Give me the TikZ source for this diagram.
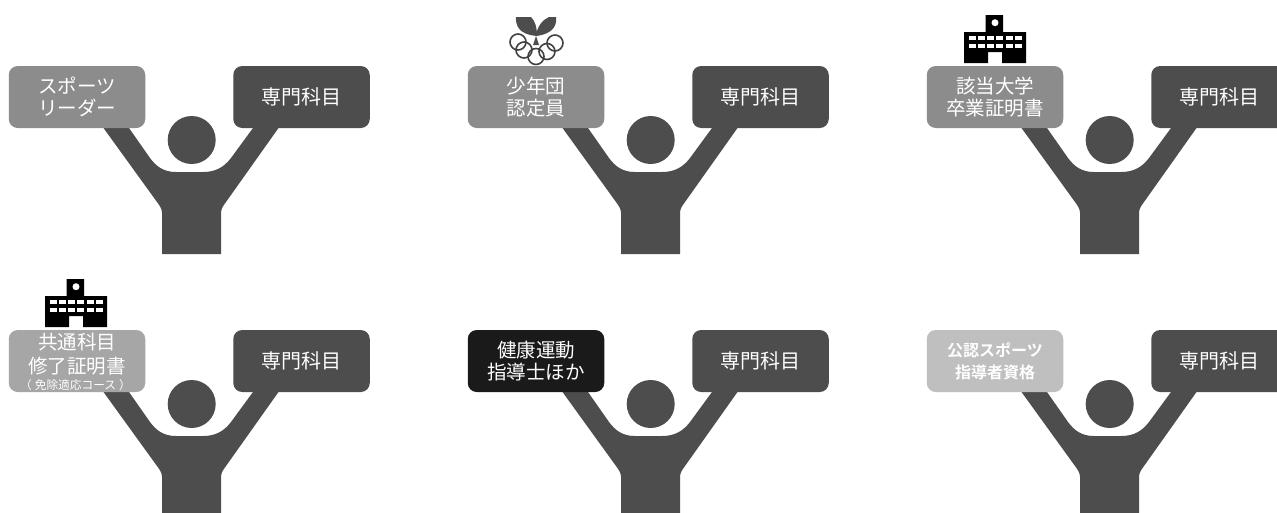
\documentclass[tikz,border=0pt]{standalone}
\usepackage{fontspec}
\setmainfont{Noto Sans CJK JP}
\newfontfamily\jpbold[BoldFont={Noto Sans CJK JP Bold}]{Noto Sans CJK JP}
\definecolor{figure}{HTML}{4D4D4D}
\definecolor{boxA}{HTML}{8C8C8C}
\definecolor{boxB}{HTML}{A6A6A6}
\definecolor{boxC}{HTML}{1A1A1A}
\definecolor{boxD}{HTML}{BFBFBF}
\tikzset{
  x=1pt,y=-1pt,
  card/.style={rounded corners=9pt,minimum width=136.5pt,minimum height=62pt,inner sep=0pt,align=center,text=white,font=\fontsize{19.5}{22.5}\selectfont,anchor=center},
  spec/.style={card,fill=figure,font=\fontsize{20}{22}\selectfont},
  icon/.style={fill=black,draw=none},
  ring/.style={draw=figure!85!black,line width=1.6pt,fill=none},
  leaf/.style={fill=figure,draw=none}
}
% #1 name, #2 dx, #3 dy
\newcommand{\personfig}[3]{%
  \begin{scope}[shift={(#2,#3)}]
    \fill[figure] (103.5,128) -- (157,202) .. controls (160,206) and (162,209) .. (162,213) -- (162,254) -- (221,254) -- (221,213) .. controls (221,209) and (223,206) .. (226,202) -- (278.5,128)
      -- (253,128) -- (231,158) .. controls (224,167) and (216,172) .. (203,172)
      -- (176,172) .. controls (163,172) and (156,166) .. (150,158) -- (129,128) -- cycle;
    \node[circle,fill=figure,minimum size=48pt,inner sep=0pt] (#1head) at (191.7,140) {};
    \node[spec] (#1spec) at (301.5,97) {専門科目};
  \end{scope}}
\newcommand{\schoolicon}[3]{%
  \begin{scope}[shift={(#2,#3)}]
    \fill[icon] (985.7,15) -- (1003,15) -- (1003,32) -- (1026,32) -- (1026,63) -- (1002,63) -- (1002,52) -- (988,52) -- (988,63) -- (964,63) -- (964,32) -- (985.7,32) -- cycle;
    \fill[white] (995,22.7) circle (3.5);
    \foreach \wy in {35.5,43.5}{
      \foreach \wx in {968.5,977.8,987.1,996.4,1005.7,1015}{
        \fill[white] (\wx,\wy) rectangle ++(7,4.5);
      }}
  \end{scope}}
\begin{document}
\begin{tikzpicture}
\useasboundingbox (0,0) rectangle (1277,512);
\clip (0,0) rectangle (1277,512);
\fill[white] (0,0) rectangle (1277,512);
\personfig{a}{0}{0}
\personfig{b}{459}{0}
\personfig{c}{918}{0}
\personfig{d}{0}{264}
\personfig{e}{459}{264}
\personfig{f}{918}{264}
% left cards
\node[card,fill=boxA] (aleft) at (77,97) {スポーツ\\リーダー};
\node[card,fill=boxA] (bleft) at (536,97) {少年団\\認定員};
\node[card,fill=boxA] (cleft) at (995,97) {該当大学\\卒業証明書};
\node[card,fill=boxB] (dleft) at (77,361) {};
\node[text=white,inner sep=0pt,align=center,font=\fontsize{19.5}{24}\selectfont] (dtext) at (77,354.5) {共通科目\\修了証明書};
\node[text=white,inner sep=0pt,font=\fontsize{11.7}{12}\selectfont] (dnote) at (75.5,385.5) {（\kern3pt 免除適応コース\kern3pt ）};
\node[card,fill=boxC] (eleft) at (536,361) {健康運動\\指導士ほか};
\node[card,fill=boxD,font=\jpbold\bfseries\fontsize{16}{22}\selectfont] (fleft) at (995,361) {公認スポーツ\\指導者資格};
% icons
\begin{scope}
  \fill[leaf] (516,17) -- (531,17) .. controls (535,21) and (537,27) .. (537,36) .. controls (527,35) and (515,32) .. (516,17) -- cycle;
  \fill[leaf] (556,17) -- (549,17) .. controls (542,20) and (537,27) .. (536,36) .. controls (546,35) and (558,30) .. (556,17) -- cycle;
  \fill[leaf] (536,36) -- (533,45) -- (539,45) -- cycle;
  \draw[ring] (518,42) circle (8);
  \draw[ring] (524,50) circle (8);
  \draw[ring] (536,56.5) circle (8);
  \draw[ring] (547,51.5) circle (8);
  \draw[ring] (555,43) circle (8);
\end{scope}
\schoolicon{c}{0}{0}
\schoolicon{d}{-919}{264}
\end{tikzpicture}
\end{document}
